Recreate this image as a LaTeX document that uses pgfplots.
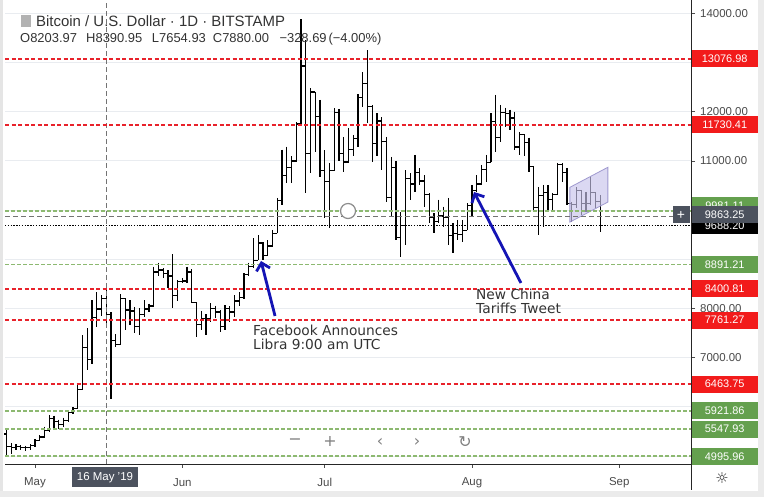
\documentclass[border=0pt]{standalone}
\usepackage{pgfplots}
\pgfplotsset{compat=1.18}
\usepackage{pgfplotstable}
\usepackage{fontspec}
\setmainfont{Liberation Sans}
\newfontfamily\dejavu{DejaVu Sans}
\usetikzlibrary{arrows.meta}
\definecolor{lvred}{HTML}{E8222B}
\definecolor{lvgreen}{HTML}{8DB971}
\definecolor{boxgreen}{HTML}{64A04E}
\definecolor{boxred}{HTML}{F21B1B}
\definecolor{boxgray}{HTML}{4C525E}
\definecolor{txtgray}{HTML}{4A4A4A}
\definecolor{gridc}{HTML}{E9ECF0}
\definecolor{arrowblue}{HTML}{1414B4}
\definecolor{chanfill}{HTML}{C9C4EC}
\definecolor{chandraw}{HTML}{9F99CF}
\definecolor{hdr}{HTML}{333333}

% d = days after 1 May 2019
\pgfplotstableread{
d o h l c
-6 5450 5520 5030 5200
-5 5200 5270 5050 5170
-4 5170 5240 5120 5190
-3 5190 5220 5130 5180
-2 5180 5210 5110 5170
-1 5170 5240 5130 5210
0 5210 5340 5190 5320
1 5320 5420 5300 5390
2 5390 5600 5370 5520
3 5520 5830 5490 5760
4 5760 5820 5580 5700
5 5700 5740 5560 5640
6 5640 5780 5600 5720
7 5720 5930 5700 5880
8 5880 6000 5860 5960
9 5960 6440 5950 6350
10 6350 7460 6340 7200
11 7200 7600 6750 6960
12 6960 8170 6880 7820
13 7820 8330 7620 7990
14 7990 8270 7840 8204
15 8204 8391 7655 7880
16 7880 7920 6170 7350
17 7350 7480 7220 7270
18 7270 8290 7250 8200
19 8200 8210 7560 7970
20 7970 8170 7660 7950
21 7950 8030 7500 7630
22 7630 8000 7460 7880
23 7880 8170 7820 7990
24 7990 8100 7920 8050
25 8050 8850 8030 8740
26 8740 8930 8650 8780
27 8780 8820 8620 8710
28 8710 8780 8420 8660
29 8660 9100 8000 8270
30 8270 8580 8160 8550
31 8550 8620 8520 8560
32 8560 8850 8520 8740
33 8740 8800 8110 8120
34 8120 8120 7420 7680
35 7680 7950 7560 7800
36 7800 7880 7460 7790
37 7790 8110 7720 8000
38 8000 8060 7800 7930
39 7930 7960 7520 7630
40 7630 8070 7560 8000
41 8000 8050 7720 7930
42 7930 8270 7830 8150
43 8150 8330 8050 8230
44 8230 8720 8200 8690
45 8690 8930 8650 8850
46 8850 9430 8830 8980
47 8980 9490 8980 9330
48 9330 9350 8980 9080
49 9080 9390 9060 9270
50 9270 9600 9250 9530
51 9530 10250 9530 10200
52 10200 11230 10100 10700
53 10700 11290 10560 10860
54 10860 11090 10560 11000
55 11000 11780 10980 11750
56 11750 13880 11700 12930
57 12930 13450 10350 11150
58 11150 12480 10750 12400
59 12400 12400 11180 11900
60 11900 12240 10680 10800
61 10800 11220 9840 10580
62 10580 10960 9640 10800
63 10800 12070 10800 11980
64 11980 12050 11000 11150
65 11150 11490 10780 10980
66 10980 11670 10970 11230
67 11230 11530 11100 11460
68 11460 12350 11280 12290
69 12290 12800 12100 12570
70 12570 13250 11760 12100
71 12100 12140 10970 11350
72 11350 11970 11100 11810
73 11810 11890 10810 11390
74 11390 11490 10160 10260
75 10260 11080 9860 10870
76 10870 11000 9400 9440
77 9440 9960 9040 9690
78 9690 10810 9290 10640
79 10640 10750 10200 10530
80 10530 11120 10370 10760
81 10760 10850 10510 10590
82 10590 10710 10060 10320
83 10320 10350 9740 9860
84 9860 9940 9530 9770
85 9770 10210 9740 9880
86 9880 10070 9660 9850
87 9850 10250 9290 9480
88 9480 9740 9130 9530
89 9530 9800 9390 9510
90 9510 9800 9350 9590
91 9590 10140 9590 10090
92 10090 10510 9880 10400
93 10400 10710 10360 10530
94 10530 10920 10530 10820
95 10820 11120 10570 10970
96 10970 11970 10970 11800
97 11800 12340 11180 11470
98 11470 12140 11380 11980
99 11980 12080 11690 11960
100 11960 12040 11630 11870
101 11870 12000 11220 11280
102 11280 11590 11120 11530
103 11530 11540 11100 11380
104 11380 11470 10780 10890
105 10890 10890 10000 10050
106 10050 10470 9490 10300
107 10300 10510 9650 10360
108 10360 10510 10000 10220
109 10220 10350 10000 10320
110 10320 10960 10300 10920
111 10920 10960 10570 10760
112 10760 10860 10100 10130
113 10130 10160 9760 10120
114 10120 10470 10050 10400
115 10400 10410 9900 10140
116 10140 10370 9960 10130
117 10130 10670 10100 10360
118 10360 10370 10040 10180
119 10180 10310 9560 9688.2
}\btc

\begin{document}
\begin{tikzpicture}[x=1bp,y=1bp]
\useasboundingbox (0,0) rectangle (764,497);
\fill[white] (0,0) rectangle (764,497);
\fill[black!10] (0,0) rectangle (3,497);
\fill[black!8] (758,0) rectangle (764,497);
\fill[black!8] (0,0) rectangle (764,6);

\begin{axis}[
  at={(5bp,33bp)}, anchor=south west,
  width=686bp, height=464bp, scale only axis,
  xmin=-6.316, xmax=138.1, ymin=4839, ymax=14270,
  axis x line*=bottom, axis y line*=right,
  axis line style={-, draw=black!85, line width=0.9pt},
  xtick={0,31,61,92,123}, xticklabels={May,Jun,Jul,Aug,Sep},
  ytick={5000,6000,...,14000}, yticklabels={},
  ymajorgrids, grid style={gridc, line width=0.8pt},
  tick style={draw=black!70, line width=0.6pt},
  major tick length=4bp, tick align=outside,
  xticklabel style={font=\fontsize{11.5}{12}\selectfont, text=txtgray, anchor=center, yshift=-14.5bp},
  clip=false,
]
% OHLC bars: high-low line, open tick (left), close tick (right)
\addplot[draw=none, mark=none, forget plot,
  error bars/.cd, y dir=minus, y explicit, error mark=none,
  error bar style={draw=black, line width=1.4bp}]
  table[x=d, y=h, y error expr=\thisrow{h}-\thisrow{l}] {\btc};
\addplot[draw=none, mark=none, forget plot,
  error bars/.cd, x dir=minus, x fixed=0.55, error mark=none,
  error bar style={draw=black, line width=1.3bp}]
  table[x=d, y=o] {\btc};
\addplot[draw=none, mark=none, forget plot,
  error bars/.cd, x dir=plus, x fixed=0.55, error mark=none,
  error bar style={draw=black, line width=1.3bp}]
  table[x=d, y=c] {\btc};

% channel
\addplot[fill=chanfill, fill opacity=0.65, draw=chandraw, line width=0.8bp, forget plot]
  coordinates {(112.6,10462) (120.6,10870) (120.6,10163) (112.6,9756)} -- cycle;

% crosshair and price lines
\addplot[black!55, line width=0.8bp, dash pattern=on 5bp off 3bp, forget plot]
  coordinates {(-6.316,9863.25) (138.1,9863.25)};
\addplot[black, line width=0.8bp, dash pattern=on 1.3bp off 1.5bp, forget plot]
  coordinates {(-6.316,9688.2) (138.1,9688.2)};
\addplot[black!55, line width=0.8bp, dash pattern=on 5bp off 3bp, forget plot]
  coordinates {(15.1,4839) (15.1,14270)};

% support / resistance levels
\pgfplotsinvokeforeach{13076.98,11730.41,8400.81,7761.27,6463.75}{
  \addplot[lvred, line width=1.8bp, dash pattern=on 4bp off 2.5bp, forget plot]
    coordinates {(-6.316,#1) (138.1,#1)};
}
\pgfplotsinvokeforeach{9981.11,8891.21,5921.86,5547.93,4995.96}{
  \addplot[lvgreen, line width=1.6bp, dash pattern=on 3.5bp off 2.5bp, forget plot]
    coordinates {(-6.316,#1) (138.1,#1)};
}

% annotation arrows
\draw[arrowblue, line width=2.8bp, -{Straight Barb[length=7bp,width=14bp]}]
  (axis cs:50.53,7848) -- (axis cs:47.58,8965);
\draw[arrowblue, line width=2.8bp, -{Straight Barb[length=7bp,width=14bp]}]
  (axis cs:102.3,8518) -- (axis cs:92.42,10368);

\node[circle, draw=black!45, fill=white, line width=1.2bp, minimum size=15bp, inner sep=0]
  at (axis cs:65.9,9981.11) {};
\end{axis}

% separators
\draw[black!85, line width=0.9pt] (691,33) -- (757,33);
\draw[black!85, line width=0.9pt] (691,33) -- (691,7);

% header
\fill[black!30] (21,470) rectangle (31,482);
\node[anchor=base west, inner sep=0, text=hdr, font=\fontsize{15}{16}\selectfont]
  at (36,470.5) {Bitcoin / U.S. Dollar · 1D · BITSTAMP};
\begin{scope}[every node/.style={anchor=base west, inner sep=0, text=hdr, font=\fontsize{13}{14}\selectfont}]
\node at (20,454.5) {O8203.97};
\node at (86,454.5) {H8390.95};
\node at (151.7,454.5) {L7654.93};
\node at (212.7,454.5) {C7880.00};
\node at (279.3,454.5) {−328.69};
\node at (328.3,454.5) {(−4.00\%)};
\end{scope}

% annotations text
\begin{scope}[every node/.style={anchor=base west, inner sep=0, text=hdr, font=\dejavu\fontsize{13.8}{15}\selectfont}]
\node at (253,161) {Facebook Announces};
\node at (253,147) {Libra 9:00 am UTC};
\node at (476,197) {New China};
\node at (476,183) {Tariffs Tweet};
\end{scope}

% toolbar
\begin{scope}[every node/.style={inner sep=0, text=black!50, font=\dejavu\fontsize{16}{16}\selectfont}]
\node at (295,55) {−};
\node at (330,55) {+};
\node at (380,55) {‹};
\node at (417,55) {›};
\node at (465,55) {↻};
\end{scope}

% price scale gray labels
\begin{scope}[every node/.style={anchor=west, inner sep=0, text=txtgray, font=\fontsize{11.5}{12}\selectfont}]
\node at (700,483.2) {14000.00};
\node at (700,385.3) {12000.00};
\node at (700,336.1) {11000.00};
\node at (700,188.5) {8000.00};
\node at (700,139.3) {7000.00};
\end{scope}

% price scale boxes
\begin{scope}[every node/.style={anchor=west, inner sep=0, minimum width=66bp, minimum height=17bp, text=white, font=\fontsize{11}{12}\selectfont}]
\node[fill=boxred] at (691.5,438.3) {13076.98};
\node[fill=boxred] at (691.5,372.0) {11730.41};
\node[fill=boxgreen] at (691.5,291.0) {9981.11};
\node[fill=black] at (691.5,271.0) {9688.20};
\node[fill=boxgray] at (691.5,282.0) {9863.25};
\node[fill=boxgreen] at (691.5,232.4) {8891.21};
\node[fill=boxred] at (691.5,208.2) {8400.81};
\node[fill=boxred] at (691.5,176.8) {7761.27};
\node[fill=boxred] at (691.5,112.9) {6463.75};
\node[fill=boxgreen] at (691.5,86.3) {5921.86};
\node[fill=boxgreen] at (691.5,67.9) {5547.93};
\node[fill=boxgreen] at (691.5,40.7) {4995.96};
\end{scope}
\node[fill=boxgray, text=white, minimum size=17bp, inner sep=0, font=\fontsize{14}{14}\selectfont] at (681,282) {+};

% date crosshair label and gear
\node[fill=boxgray, text=white, minimum width=66bp, minimum height=20bp, inner sep=0, font=\fontsize{11.5}{12}\selectfont] at (105,19.5) {16 May '19};
\node[inner sep=0, text=hdr, font=\dejavu\fontsize{15}{15}\selectfont] at (722,19) {☼};
\end{tikzpicture}
\end{document}
